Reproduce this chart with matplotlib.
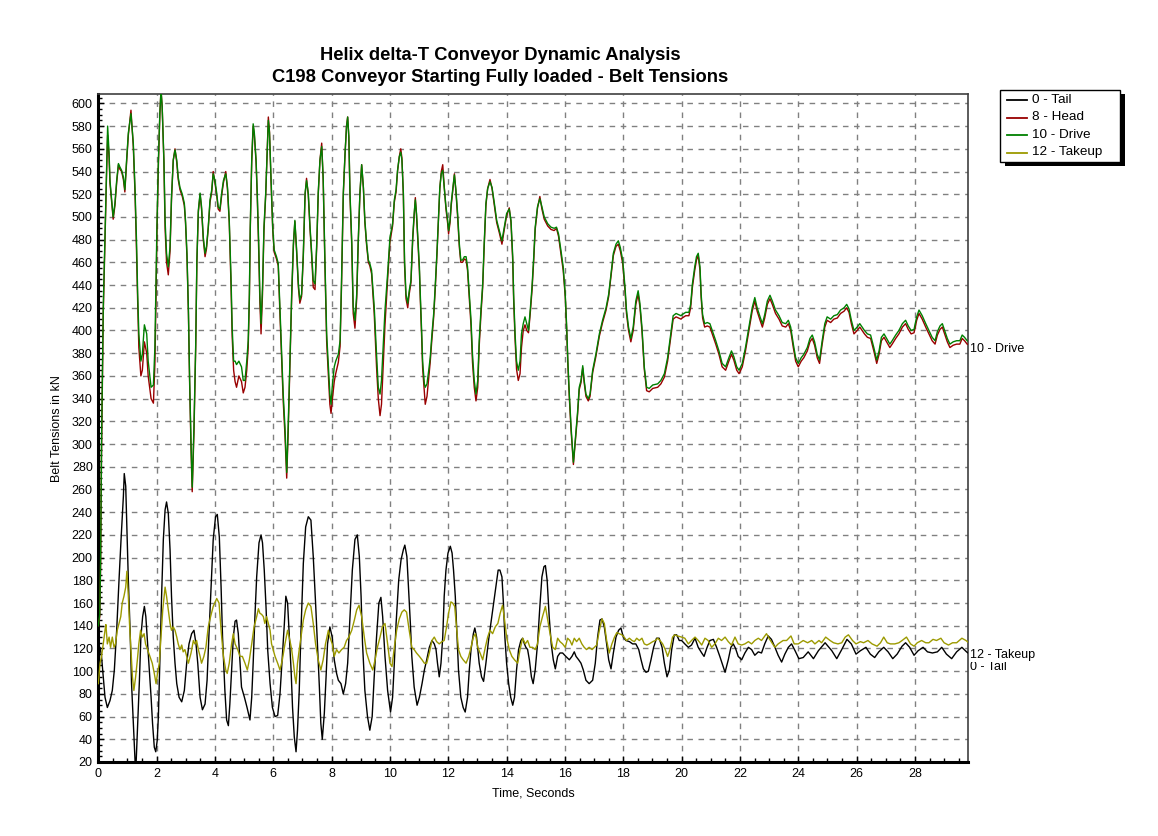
import matplotlib
matplotlib.use("Agg")
import matplotlib.pyplot as plt
from matplotlib.ticker import MultipleLocator
from matplotlib.patches import Rectangle
from matplotlib.lines import Line2D

plt.rcParams['font.family'] = ['Liberation Sans', 'DejaVu Sans']

# ---------------- data ----------------
drive_t = [0.00, 0.05, 0.08, 0.11, 0.17, 0.23, 0.29, 0.32, 0.37, 0.40, 0.46, 0.51, 0.57, 0.63, 0.69, 0.74, 0.80, 0.86, 0.91, 0.97,
           1.03, 1.12, 1.20, 1.26, 1.31, 1.35, 1.39, 1.46, 1.51, 1.58, 1.66, 1.71, 1.81, 1.89, 1.94, 1.98, 2.01, 2.06, 2.11, 2.15,
           2.19, 2.25, 2.29, 2.34, 2.40, 2.46, 2.51, 2.57, 2.63, 2.69, 2.74, 2.80, 2.88, 2.95, 2.99, 3.04, 3.09, 3.13, 3.18, 3.22,
           3.28, 3.34, 3.38, 3.43, 3.49, 3.54, 3.60, 3.66, 3.71, 3.77, 3.83, 3.89, 3.94, 4.00, 4.06, 4.11, 4.17, 4.23, 4.29, 4.37,
           4.43, 4.49, 4.55, 4.59, 4.64, 4.69, 4.74, 4.82, 4.91, 4.97, 5.03, 5.09, 5.14, 5.18, 5.21, 5.26, 5.31, 5.35, 5.41, 5.45,
           5.50, 5.54, 5.58, 5.63, 5.68, 5.74, 5.78, 5.83, 5.87, 5.92, 5.98, 6.03, 6.11, 6.17, 6.23, 6.29, 6.34, 6.40, 6.46, 6.51,
           6.57, 6.63, 6.69, 6.74, 6.80, 6.86, 6.91, 6.97, 7.03, 7.09, 7.14, 7.20, 7.26, 7.31, 7.37, 7.43, 7.49, 7.54, 7.60, 7.66,
           7.71, 7.77, 7.83, 7.89, 7.94, 7.98, 8.02, 8.09, 8.14, 8.23, 8.29, 8.34, 8.40, 8.46, 8.51, 8.55, 8.59, 8.63, 8.69, 8.74,
           8.80, 8.86, 8.91, 8.97, 9.03, 9.09, 9.14, 9.20, 9.26, 9.31, 9.37, 9.46, 9.54, 9.60, 9.66, 9.71, 9.77, 9.83, 9.92, 10.00,
           10.09, 10.15, 10.21, 10.26, 10.32, 10.37, 10.41, 10.46, 10.50, 10.55, 10.61, 10.66, 10.72, 10.78, 10.83, 10.87, 10.91, 10.95, 11.01, 11.04,
           11.09, 11.12, 11.18, 11.21, 11.27, 11.33, 11.38, 11.44, 11.50, 11.55, 11.61, 11.66, 11.71, 11.76, 11.81, 11.86, 11.92, 11.98, 12.01, 12.06,
           12.10, 12.15, 12.21, 12.26, 12.32, 12.38, 12.43, 12.49, 12.55, 12.61, 12.66, 12.72, 12.78, 12.83, 12.89, 12.95, 13.01, 13.06, 13.12, 13.18,
           13.23, 13.29, 13.35, 13.43, 13.50, 13.58, 13.66, 13.75, 13.84, 13.92, 14.00, 14.09, 14.15, 14.21, 14.24, 14.29, 14.34, 14.40, 14.46, 14.51,
           14.57, 14.63, 14.69, 14.75, 14.81, 14.87, 14.93, 14.98, 15.06, 15.14, 15.21, 15.29, 15.41, 15.52, 15.63, 15.71, 15.78, 15.86, 15.94, 16.01,
           16.06, 16.10, 16.15, 16.21, 16.29, 16.43, 16.49, 16.55, 16.61, 16.66, 16.72, 16.80, 16.86, 16.95, 17.06, 17.18, 17.29, 17.41, 17.50, 17.58,
           17.66, 17.75, 17.83, 17.90, 17.98, 18.06, 18.11, 18.18, 18.26, 18.34, 18.43, 18.51, 18.57, 18.64, 18.72, 18.80, 18.89, 19.01, 19.18, 19.29,
           19.41, 19.52, 19.63, 19.71, 19.81, 19.98,
           20.02, 20.14, 20.25, 20.31, 20.37, 20.45, 20.51, 20.57, 20.63, 20.67, 20.72, 20.79, 20.88, 20.97, 21.05, 21.17, 21.28, 21.39, 21.51, 21.62,
           21.71, 21.79, 21.89, 21.97, 22.08, 22.19, 22.31, 22.42, 22.51, 22.59, 22.69, 22.77, 22.85, 22.94, 23.03, 23.11, 23.22, 23.34, 23.45, 23.57,
           23.66, 23.74, 23.83, 23.91, 24.00, 24.10, 24.19, 24.31, 24.40, 24.48, 24.56, 24.65, 24.73, 24.82, 24.91, 24.99, 25.11, 25.22, 25.34, 25.45,
           25.57, 25.66, 25.74, 25.82, 25.91, 26.02, 26.11, 26.19, 26.27, 26.37, 26.48, 26.59, 26.69, 26.77, 26.85, 26.94, 27.03, 27.14, 27.22, 27.34,
           27.45, 27.57, 27.68, 27.77, 27.87, 27.97, 28.06, 28.14, 28.25, 28.37, 28.48, 28.59, 28.69, 28.77, 28.86, 28.94, 29.02, 29.11, 29.20, 29.31,
           29.43, 29.54, 29.62, 29.70, 29.79, 29.89]

drive_v = [140, 150, 200, 300, 420, 483, 550, 580, 556, 532, 515, 500, 512, 532, 547, 544, 541, 535, 524, 550,
           574, 591, 565, 524, 479, 432, 397, 373, 379, 405, 397, 373, 350, 352, 385, 444, 491, 550, 591, 612,
           597, 550, 497, 468, 456, 474, 518, 550, 559, 550, 535, 526, 520, 512, 497, 468, 418, 359, 300, 262,
           315, 388, 462, 506, 521, 509, 482, 468, 474, 491, 515, 524, 538, 532, 521, 509, 507, 521, 532, 538,
           526, 497, 447, 403, 373, 373, 370, 373, 368, 356, 356, 373, 391, 432, 491, 550, 582, 574, 550, 521,
           477, 432, 406, 438, 491, 521, 550, 585, 574, 535, 491, 471, 465, 459, 418, 379, 344, 315, 275, 315,
           373, 432, 477, 497, 471, 441, 427, 432, 468, 521, 532, 521, 491, 471, 444, 441, 477, 521, 550, 562,
           535, 462, 397, 368, 344, 335, 350, 368, 373, 379, 391, 444, 521, 556, 579, 588, 571, 521, 479, 421,
           409, 432, 477, 521, 546, 526, 497, 477, 462, 459, 453, 421, 379, 350, 344, 356, 388, 418, 450, 482,
           494, 515, 524, 541, 553, 557, 550, 521, 462, 432, 424, 435, 444, 482, 503, 515, 503, 485, 456, 432,
           397, 373, 353, 350, 353, 365, 376, 397, 415, 438, 468, 497, 526, 538, 541, 526, 509, 497, 488, 497,
           512, 524, 537, 524, 503, 476, 462, 462, 465, 465, 456, 432, 409, 379, 356, 344, 356, 391, 418, 441,
           476, 512, 525, 531, 526, 512, 497, 488, 479, 491, 503, 507, 497, 465, 432, 397, 373, 365, 373, 397,
           406, 412, 406, 400, 418, 438, 465, 491, 509, 516, 509, 500, 494, 491, 490, 491, 485, 471, 456, 432,
           403, 373, 344, 315, 284, 327, 350, 356, 369, 356, 344, 340, 344, 365, 379, 397, 409, 420, 432, 450,
           468, 476, 479, 473, 462, 438, 418, 403, 393, 403, 426, 435, 424, 403, 368, 350, 349, 352, 353, 356,
           362, 376, 397, 413, 415, 413,
           414, 416, 416, 423, 441, 456, 465, 468, 456, 432, 414, 406, 407, 406, 400, 391, 382, 371, 368, 376,
           382, 377, 368, 365, 371, 385, 403, 420, 429, 420, 412, 406, 414, 426, 431, 426, 418, 413, 407, 406,
           409, 403, 388, 376, 371, 376, 379, 385, 393, 396, 390, 379, 374, 391, 406, 412, 410, 413, 414, 418,
           420, 423, 419, 409, 400, 403, 406, 403, 400, 397, 396, 385, 374, 382, 394, 397, 393, 388, 391, 396,
           400, 406, 409, 404, 400, 401, 412, 418, 413, 406, 400, 394, 391, 399, 404, 406, 400, 393, 388, 390,
           391, 391, 396, 394, 391, 390]

head_v = [140, 148, 195, 290, 415, 480, 545, 572, 552, 530, 512, 498, 510, 530, 546, 542, 540, 533, 522, 548,
          572, 594, 562, 520, 470, 425, 385, 360, 365, 390, 380, 360, 340, 336, 370, 430, 485, 545, 590, 612,
          597, 548, 490, 460, 449, 470, 515, 550, 560, 548, 533, 524, 518, 510, 495, 465, 415, 355, 295, 258,
          310, 385, 460, 504, 520, 507, 480, 465, 472, 490, 513, 522, 540, 530, 519, 507, 505, 519, 530, 540,
          524, 495, 440, 395, 365, 355, 350, 360, 355, 345, 350, 365, 385, 428, 488, 548, 580, 572, 548, 518,
          470, 425, 397, 432, 488, 519, 549, 588, 575, 533, 489, 469, 463, 457, 413, 373, 338, 308, 270, 310,
          368, 428, 475, 496, 469, 438, 424, 430, 466, 519, 534, 519, 489, 468, 438, 436, 474, 519, 550, 565,
          533, 458, 390, 360, 335, 327, 338, 355, 362, 372, 386, 440, 519, 555, 580, 588, 570, 518, 475, 415,
          402, 428, 475, 520, 546, 525, 495, 475, 460, 457, 450, 415, 368, 340, 325, 335, 370, 405, 445, 478,
          492, 513, 522, 540, 553, 560, 552, 519, 458, 428, 420, 432, 442, 480, 501, 517, 502, 482, 452, 428,
          392, 367, 345, 335, 342, 358, 372, 393, 412, 435, 466, 495, 525, 540, 546, 527, 507, 494, 485, 495,
          510, 522, 538, 523, 500, 473, 460, 460, 463, 462, 453, 428, 404, 372, 350, 338, 350, 386, 414, 438,
          473, 510, 525, 533, 525, 510, 495, 486, 476, 489, 501, 508, 495, 461, 428, 392, 366, 356, 362, 385,
          400, 405, 400, 398, 415, 435, 462, 489, 508, 518, 507, 498, 492, 489, 488, 490, 483, 468, 453, 430,
          400, 370, 341, 312, 282, 325, 348, 354, 367, 354, 342, 338, 342, 363, 377, 395, 407, 418, 430, 448,
          466, 474, 476, 470, 459, 435, 415, 400, 390, 400, 423, 432, 421, 400, 366, 347, 346, 349, 350, 353,
          359, 373, 394, 410, 412, 410,
          411, 413, 413, 420, 438, 453, 462, 466, 453, 429, 411, 403, 404, 403, 397, 388, 379, 368, 365, 373,
          379, 374, 365, 362, 368, 382, 400, 417, 426, 417, 409, 403, 411, 423, 428, 423, 415, 410, 404, 403,
          406, 400, 385, 373, 368, 373, 376, 382, 390, 393, 387, 376, 371, 388, 403, 409, 407, 410, 411, 415,
          417, 420, 416, 406, 397, 400, 403, 400, 397, 394, 393, 382, 371, 379, 391, 394, 390, 385, 388, 393,
          397, 403, 406, 401, 397, 398, 409, 415, 410, 403, 397, 391, 388, 396, 401, 403, 397, 390, 385, 387,
          388, 388, 393, 391, 388, 387]

tail_t = [0.00, 0.06, 0.11, 0.17, 0.23, 0.31, 0.40, 0.48, 0.55, 0.63, 0.71, 0.78, 0.86, 0.89, 0.94, 0.97, 1.03, 1.09, 1.14, 1.20,
          1.26, 1.29, 1.35, 1.41, 1.46, 1.52, 1.58, 1.63, 1.69, 1.75, 1.81, 1.86, 1.92, 1.97, 2.02, 2.06, 2.11, 2.17, 2.23, 2.29,
          2.34, 2.40, 2.46, 2.51, 2.57, 2.63, 2.69, 2.77, 2.86, 2.95, 3.03, 3.11, 3.20, 3.28, 3.35, 3.41, 3.49, 3.57, 3.66, 3.73,
          3.79, 3.86, 3.94, 4.02, 4.08, 4.15, 4.21, 4.26, 4.34, 4.40, 4.46, 4.51, 4.57, 4.63, 4.69, 4.74, 4.80, 4.86, 4.91, 5.01,
          5.10, 5.20, 5.26, 5.31, 5.37, 5.43, 5.51, 5.58, 5.63, 5.69, 5.75, 5.81, 5.89, 5.97, 6.06, 6.15, 6.23, 6.31, 6.38, 6.43,
          6.49, 6.54, 6.61, 6.66, 6.72, 6.78, 6.83, 6.89, 6.95, 7.03, 7.11, 7.20, 7.29, 7.37, 7.45, 7.52, 7.58, 7.63, 7.68, 7.75,
          7.81, 7.86, 7.94, 8.02, 8.09, 8.17, 8.23, 8.32, 8.40, 8.48, 8.55, 8.63, 8.71, 8.80, 8.88, 8.95, 9.01, 9.06, 9.14, 9.23,
          9.31, 9.39, 9.46, 9.54, 9.62, 9.69, 9.75, 9.83, 9.92, 10.02,
          10.09, 10.15, 10.21, 10.30, 10.38, 10.46, 10.51, 10.58, 10.64, 10.70, 10.75, 10.83, 10.93, 11.01, 11.10, 11.18, 11.26, 11.35, 11.44, 11.52,
          11.58, 11.63, 11.69, 11.75, 11.81, 11.86, 11.92, 11.99, 12.07, 12.13, 12.18, 12.24, 12.30, 12.35, 12.43, 12.51, 12.58, 12.66, 12.72, 12.78,
          12.86, 12.91, 12.97, 13.06, 13.14, 13.21, 13.29, 13.38, 13.46, 13.54, 13.63, 13.71, 13.77, 13.84, 13.89, 13.94, 14.00, 14.07, 14.14, 14.21,
          14.27, 14.34, 14.41, 14.49, 14.55, 14.61, 14.66, 14.72, 14.78, 14.85, 14.91, 14.98, 15.06, 15.14, 15.21, 15.28, 15.33, 15.39, 15.46, 15.53,
          15.60, 15.67, 15.75, 15.83, 15.92, 16.03, 16.15, 16.24, 16.32, 16.38, 16.47, 16.55, 16.63, 16.72, 16.83, 16.95, 17.04, 17.12, 17.20, 17.27,
          17.35, 17.43, 17.50, 17.58, 17.66, 17.75, 17.84, 17.92, 18.00, 18.09, 18.21, 18.32, 18.43, 18.53, 18.61, 18.69, 18.78, 18.86, 18.95, 19.04,
          19.14, 19.23, 19.33, 19.41, 19.50, 19.58, 19.66, 19.75, 19.83, 19.92,
          20.00, 20.11, 20.23, 20.34, 20.46, 20.57, 20.69, 20.77, 20.86, 20.97, 21.09, 21.20, 21.31, 21.49, 21.60, 21.69, 21.77, 21.85, 21.94, 22.06,
          22.17, 22.29, 22.40, 22.51, 22.63, 22.74, 22.85, 22.97, 23.08, 23.20, 23.31, 23.43, 23.54, 23.66, 23.77, 23.89, 24.02, 24.17, 24.34, 24.52,
          24.69, 24.92, 25.15, 25.32, 25.49, 25.67, 25.82, 25.98, 26.13, 26.32, 26.47, 26.62, 26.76, 26.93, 27.08, 27.24, 27.39, 27.56, 27.68, 27.82,
          27.97, 28.11, 28.28, 28.43, 28.60, 28.77, 28.92, 29.08, 29.26, 29.43, 29.61, 29.77, 29.92]

tail_v = [118, 121, 113, 95, 77, 68, 74, 83, 101, 136, 180, 216, 254, 274, 263, 236, 180, 136, 89, 54,
          21, 15, 54, 92, 130, 148, 157, 148, 124, 101, 77, 54, 33, 29, 39, 60, 107, 166, 216, 242,
          249, 239, 207, 166, 130, 107, 89, 77, 73, 83, 107, 124, 133, 136, 124, 107, 77, 66, 71, 92,
          130, 171, 216, 236, 238, 218, 174, 130, 83, 57, 52, 71, 101, 130, 144, 145, 133, 107, 86, 77,
          68, 57, 77, 107, 148, 183, 213, 220, 213, 189, 157, 118, 89, 68, 60, 61, 80, 113, 142, 166,
          160, 136, 101, 68, 42, 29, 48, 83, 136, 195, 227, 236, 233, 201, 160, 121, 86, 54, 40, 63,
          95, 124, 139, 130, 110, 98, 92, 89, 80, 89, 107, 148, 189, 216, 220, 201, 166, 124, 83, 60,
          48, 60, 95, 130, 160, 165, 148, 113, 83, 64,
          77, 107, 142, 180, 198, 207, 211, 201, 171, 142, 113, 86, 70, 77, 89, 101, 110, 121, 127, 124,
          119, 107, 95, 107, 130, 166, 189, 204, 210, 204, 189, 166, 130, 101, 77, 68, 64, 77, 101, 119,
          133, 138, 130, 107, 95, 91, 107, 127, 142, 157, 174, 189, 189, 183, 160, 130, 107, 89, 77, 70,
          77, 101, 119, 127, 129, 124, 121, 119, 110, 95, 89, 101, 124, 157, 183, 192, 193, 180, 148, 124,
          110, 102, 113, 116, 116, 113, 110, 113, 117, 113, 110, 107, 101, 92, 89, 92, 107, 130, 145, 146,
          139, 124, 110, 102, 116, 130, 136, 138, 130, 127, 126, 124, 124, 119, 110, 102, 99, 100, 110, 121,
          129, 129, 121, 107, 95, 101, 119, 132, 132, 127,
          127, 124, 121, 123, 129, 121, 116, 113, 120, 127, 128, 121, 113, 99, 110, 121, 124, 120, 113, 110,
          116, 121, 119, 114, 117, 116, 124, 131, 128, 121, 114, 108, 115, 121, 124, 118, 111, 112, 117, 111,
          118, 125, 118, 111, 119, 128, 124, 115, 118, 121, 115, 112, 117, 121, 117, 111, 115, 122, 125, 121,
          114, 118, 121, 117, 116, 117, 121, 115, 111, 117, 121, 117, 114]

takeup_t = [0.00, 0.06, 0.11, 0.17, 0.23, 0.26, 0.31, 0.37, 0.42, 0.48, 0.54, 0.59, 0.65, 0.71, 0.77, 0.82, 0.88, 0.94, 0.98, 1.03,
            1.07, 1.12, 1.17, 1.22, 1.28, 1.34, 1.39, 1.45, 1.51, 1.57, 1.62, 1.69, 1.77, 1.85, 1.92, 1.98, 2.03, 2.09, 2.15, 2.21,
            2.29, 2.34, 2.40, 2.46, 2.51, 2.57, 2.63, 2.69, 2.74, 2.80, 2.86, 2.91, 2.97, 3.03, 3.09, 3.18, 3.26, 3.31, 3.37, 3.43,
            3.49, 3.54, 3.62, 3.69, 3.77, 3.85, 3.94, 4.06, 4.14, 4.21, 4.29, 4.37, 4.42, 4.49, 4.57, 4.63, 4.69, 4.78, 4.86, 4.94,
            5.03, 5.11, 5.18, 5.26, 5.34, 5.43, 5.49, 5.54, 5.60, 5.66, 5.71, 5.77, 5.83, 5.89, 5.94, 6.06, 6.15, 6.23, 6.31, 6.40,
            6.49, 6.57, 6.63, 6.69, 6.74, 6.78, 6.83, 6.89, 6.95, 7.03, 7.11, 7.20, 7.29, 7.37, 7.45, 7.54, 7.63, 7.71, 7.79, 7.89,
            7.94, 8.02, 8.09, 8.17, 8.25, 8.34, 8.43, 8.51, 8.59, 8.69, 8.78, 8.86, 8.94, 9.03, 9.12, 9.20, 9.31, 9.41, 9.49, 9.57,
            9.66, 9.74, 9.83, 9.92, 10.00,
            10.07, 10.15, 10.23, 10.32, 10.41, 10.49, 10.57, 10.66, 10.75, 10.83, 10.91, 11.01, 11.10, 11.18, 11.26, 11.35, 11.44, 11.52, 11.60, 11.69,
            11.78, 11.86, 11.94, 12.01, 12.09, 12.15, 12.22, 12.29, 12.35, 12.43, 12.51, 12.61, 12.70, 12.78, 12.86, 12.93, 13.01, 13.09, 13.18, 13.27,
            13.35, 13.43, 13.52, 13.61, 13.70, 13.78, 13.86, 13.93, 14.00, 14.09, 14.18, 14.27, 14.38, 14.46, 14.55, 14.64, 14.72, 14.80, 14.89, 14.98,
            15.06, 15.14, 15.23, 15.33, 15.41, 15.49, 15.58, 15.67, 15.75, 15.83, 15.92, 16.01, 16.09, 16.17, 16.24, 16.32, 16.40, 16.49, 16.58, 16.66,
            16.74, 16.83, 16.93, 17.01, 17.09, 17.18, 17.27, 17.35, 17.43, 17.52, 17.61, 17.70, 17.78, 17.86, 17.95, 18.03, 18.11, 18.21, 18.30, 18.38,
            18.46, 18.55, 18.64, 18.72, 18.81, 18.89, 19.01, 19.10, 19.18, 19.26, 19.35, 19.44, 19.52, 19.60, 19.69, 19.77, 19.86,
            20.00, 20.11, 20.23, 20.34, 20.46, 20.57, 20.69, 20.80, 20.91, 21.03, 21.14, 21.26, 21.37, 21.49, 21.60, 21.71, 21.83, 21.94, 22.06, 22.17,
            22.29, 22.40, 22.51, 22.63, 22.74, 22.91, 23.02, 23.20, 23.31, 23.48, 23.60, 23.75, 23.86, 24.00, 24.17, 24.32, 24.46, 24.57, 24.71, 24.80,
            24.94, 25.09, 25.21, 25.36, 25.49, 25.61, 25.72, 25.86, 25.98, 26.13, 26.24, 26.39, 26.53, 26.70, 26.82, 26.93, 27.05, 27.16, 27.31, 27.45,
            27.56, 27.71, 27.85, 27.97, 28.08, 28.23, 28.37, 28.48, 28.62, 28.74, 28.89, 29.00, 29.15, 29.29, 29.43, 29.61, 29.75, 29.89]

takeup_v = [89, 107, 113, 124, 136, 141, 124, 130, 121, 130, 121, 124, 136, 142, 148, 160, 166, 174, 188, 166,
            142, 119, 95, 83, 95, 110, 124, 136, 130, 133, 124, 119, 113, 107, 98, 89, 98, 107, 130, 154,
            174, 166, 154, 142, 136, 139, 136, 130, 124, 119, 123, 117, 119, 113, 107, 116, 127, 124, 127, 119,
            113, 107, 113, 121, 139, 148, 157, 164, 160, 136, 113, 101, 98, 107, 124, 133, 124, 119, 113, 113,
            107, 101, 110, 124, 139, 148, 155, 151, 150, 148, 142, 148, 142, 136, 124, 113, 107, 101, 110, 124,
            136, 127, 119, 107, 95, 89, 107, 119, 130, 145, 154, 160, 157, 142, 124, 110, 101, 110, 124, 136,
            130, 124, 113, 119, 116, 119, 121, 127, 130, 136, 145, 154, 158, 148, 130, 116, 107, 101, 110, 121,
            130, 139, 142, 124, 107,
            104, 121, 136, 146, 152, 154, 152, 136, 121, 119, 116, 113, 110, 107, 107, 116, 127, 130, 126, 124,
            126, 127, 139, 151, 161, 160, 157, 136, 119, 113, 110, 107, 113, 121, 130, 133, 121, 116, 110, 121,
            130, 136, 133, 139, 142, 151, 158, 145, 130, 119, 113, 110, 107, 119, 129, 124, 127, 121, 121, 119,
            124, 139, 148, 157, 145, 133, 121, 119, 129, 126, 124, 121, 129, 127, 123, 129, 126, 129, 124, 121,
            119, 121, 119, 121, 123, 136, 146, 142, 127, 116, 124, 130, 134, 133, 132, 130, 127, 129, 127, 126,
            129, 127, 129, 124, 123, 124, 126, 127, 129, 127, 124, 119, 113, 119, 130, 132, 131,
            130, 129, 124, 127, 130, 127, 123, 129, 127, 121, 124, 129, 127, 130, 126, 123, 130, 124, 123, 124,
            126, 124, 127, 129, 127, 133, 128, 121, 124, 127, 127, 131, 124, 124, 127, 125, 127, 124, 127, 125,
            130, 127, 125, 124, 125, 130, 132, 127, 124, 126, 125, 127, 124, 122, 125, 130, 125, 124, 124, 125,
            127, 130, 124, 122, 125, 127, 125, 125, 128, 127, 129, 125, 123, 125, 125, 129, 127, 124]

series_names = ['0 - Tail', '8 - Head', '10 - Drive', '12 - Takeup']
series_colors = ['#000000', '#990000', '#008000', '#9c9a00']

title_lines = ['Helix delta-T Conveyor Dynamic Analysis',
               'C198 Conveyor Starting Fully loaded - Belt Tensions']
x_ticks = list(range(0, 30, 2))
y_ticks = list(range(20, 601, 20))

# ---------------- figure ----------------
W, H = 1158, 836
fig = plt.figure(figsize=(W / 100, H / 100), dpi=100)
fig.patch.set_facecolor('white')
ax = fig.add_axes([98.3 / W, 1 - 762 / H, (968.3 - 98.3) / W, (762 - 94.3) / H])

LW = 1.0
ax.plot(tail_t, tail_v, color=series_colors[0], lw=LW, label=series_names[0], zorder=3)
ax.plot(drive_t, head_v, color=series_colors[1], lw=LW, label=series_names[1], zorder=4)
ax.plot(drive_t, drive_v, color=series_colors[2], lw=LW, label=series_names[2], zorder=5)
ax.plot(takeup_t, takeup_v, color=series_colors[3], lw=LW, label=series_names[3], zorder=6)

ax.set_xlim(0, 29.83)
ax.set_ylim(20, 608)
ax.set_xticks(x_ticks)
ax.set_yticks(y_ticks)
ax.xaxis.set_minor_locator(MultipleLocator(0.5))
ax.yaxis.set_minor_locator(MultipleLocator(5))
ax.tick_params(axis='both', which='major', direction='in', length=4, width=1, labelsize=9, pad=4, color='black')
ax.tick_params(axis='both', which='minor', direction='in', length=3, width=1, color='black')
ax.grid(True, which='major', color='#808080', linestyle=(0, (4, 4)), linewidth=1.0)
ax.set_axisbelow(True)

for side in ['top', 'right']:
    ax.spines[side].set_color('#404040')
    ax.spines[side].set_linewidth(1.2)
ax.spines['left'].set_color('black')
ax.spines['left'].set_linewidth(2.2)
ax.spines['bottom'].set_color('black')
ax.spines['bottom'].set_linewidth(2.2)

ax.set_xlabel('Time, Seconds', fontsize=9, labelpad=6)
ax.set_ylabel('Belt Tensions in kN', fontsize=9, labelpad=6)

fig.text(500 / W, 1 - 56 / H, title_lines[0], ha='center', va='center', fontsize=13.2, fontweight='bold')
fig.text(500 / W, 1 - 77 / H, title_lines[1], ha='center', va='center', fontsize=13.2, fontweight='bold')

# end-of-line labels
ax.annotate(series_names[0], xy=(1, tail_v[-1]), xycoords=('axes fraction', 'data'),
            xytext=(1, -4), textcoords='offset points', ha='left', va='top', fontsize=9,
            annotation_clip=False, zorder=7)
ax.annotate(series_names[3], xy=(1, takeup_v[-1]), xycoords=('axes fraction', 'data'),
            xytext=(1, -4), textcoords='offset points', ha='left', va='top', fontsize=9,
            annotation_clip=False, zorder=8,
            bbox=dict(boxstyle='square,pad=0.05', fc='white', ec='none'))
ax.annotate(series_names[2], xy=(1, drive_v[-1]), xycoords=('axes fraction', 'data'),
            xytext=(1, -1), textcoords='offset points', ha='left', va='top', fontsize=9,
            annotation_clip=False, zorder=8)

# ---- legend box (drawn in figure pixels) ----
def fx(px):
    return px / W

def fy(py):
    return 1 - py / H

box_l, box_t, box_r, box_b = 1000, 90, 1120, 162
shadow = Rectangle((fx(box_l + 5), fy(box_b + 4)), fx(box_r - box_l), (box_b - box_t) / H,
                   transform=fig.transFigure, facecolor='black', edgecolor='none', zorder=1)
frame = Rectangle((fx(box_l), fy(box_b)), fx(box_r - box_l), (box_b - box_t) / H,
                  transform=fig.transFigure, facecolor='white', edgecolor='black', linewidth=1.0, zorder=2)
fig.add_artist(shadow)
fig.add_artist(frame)
entry_y = [100, 117.5, 135, 152.5]
for name, col, ey in zip(series_names, series_colors, entry_y):
    fig.add_artist(Line2D([fx(1006.5), fx(1027)], [fy(ey), fy(ey)], transform=fig.transFigure,
                          color=col, linewidth=1.3, zorder=3))
    fig.text(fx(1031.5), fy(ey), name, ha='left', va='center', fontsize=9.7, zorder=3)

fig.savefig('out.png', dpi=100, facecolor='white')
